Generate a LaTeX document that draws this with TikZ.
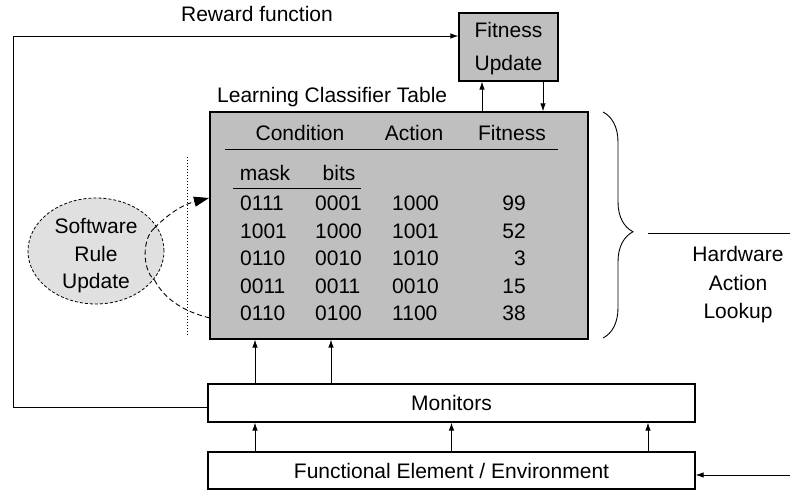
\documentclass[tikz,border=0pt]{standalone}
\usepackage{fontspec}
\setmainfont{Liberation Sans}
\usetikzlibrary{arrows.meta,shapes.geometric,decorations.pathreplacing}
\definecolor{boxgray}{gray}{0.75}
\definecolor{ellgray}{gray}{0.88}
\begin{document}
\begin{tikzpicture}[x=1pt,y=-1pt,
  every node/.style={font=\fontsize{21}{26}\selectfont},
  box/.style={draw, line width=1.2pt, rectangle, inner sep=0},
  graybox/.style={box, fill=boxgray},
  arr/.style={-{Latex[length=8pt,width=5.5pt]}, line width=0.9pt},
  cell/.style={inner sep=0, text height=15pt, text depth=0pt},
  dsh/.style={line width=0.9pt, dash pattern=on 5pt off 3pt},
]
\useasboundingbox (0,0) rectangle (790,490);

% boxes
\node[graybox, minimum width=99pt, minimum height=68pt] (fit) at (508.5,47) {};
\node[align=center, font=\fontsize{21}{33}\selectfont, inner sep=0] (fittxt) at (508.5,49) {Fitness\\Update};
\node[graybox, minimum width=378pt, minimum height=227pt] (lct) at (399,225.5) {};
\node[anchor=west, inner sep=0] (lctlabel) at (217,97) {Learning Classifier Table};
\node[box, minimum width=487pt, minimum height=38pt] (mon) at (451.5,403) {Monitors};
\node[box, minimum width=487pt, minimum height=37pt] (fun) at (451.5,470.5) {Functional Element / Environment};

% table contents
\node[cell] (hcond) at (300,133) {Condition};
\node[cell] (hact) at (414,133) {Action};
\node[cell] (hfit) at (512,133) {Fitness};
\draw[line width=0.9pt] (225,149) -- (558,149);
\node[cell] (hmask) at (265,173) {mask};
\node[cell] (hbits) at (339,173) {bits};
\draw[line width=0.9pt] (233,188) -- (361,188);
\foreach \m/\b/\a/\f [count=\i] in {0111/0001/1000/99, 1001/1000/1001/52, 0110/0010/1010/3, 0011/0011/0010/15, 0110/0100/1100/38}{
  \pgfmathsetmacro{\yy}{203+27.5*(\i-1)}
  \node[cell, anchor=west] (m\i) at (240,\yy) {\m};
  \node[cell, anchor=west] (b\i) at (315,\yy) {\b};
  \node[cell, anchor=west] (a\i) at (392,\yy) {\a};
  \node[cell, anchor=east] (f\i) at (526,\yy) {\f};
}

% reward feedback
\node[inner sep=0] (reward) at (257,14) {Reward function};
\coordinate (fbl) at (13,36);
\draw[arr] ([yshift=-4pt]mon.west) -| (fbl) -- (fbl -| fit.west);

% fitness <-> table
\coordinate (c1) at (482,0);
\coordinate (c2) at (543,0);
\draw[arr] (lct.north -| c1) -- (fit.south -| c1);
\draw[arr] (fit.south -| c2) -- (lct.north -| c2);

% monitors -> table
\coordinate (c3) at (255,0);
\coordinate (c4) at (331,0);
\draw[arr] (mon.north -| c3) -- (lct.south -| c3);
\draw[arr] (mon.north -| c4) -- (lct.south -| c4);

% functional -> monitors
\foreach \x [count=\k] in {255,451.5,648}{
  \coordinate (d\k) at (\x,0);
  \draw[arr] (fun.north -| d\k) -- (mon.south -| d\k);
}

% environment input
\coordinate (inR) at (790,475);
\draw[arr] (inR) -- (inR -| fun.east);

% brace and hardware label
\draw[line width=0.9pt, decorate, decoration={brace, amplitude=30pt, aspect=0.53}] (603,112) -- (603,338);
\coordinate (hwl) at (648,233);
\coordinate (hwr) at (790,233);
\draw[line width=0.9pt] (hwl) -- (hwr);
\node[align=center, font=\fontsize{21}{28.5}\selectfont, inner sep=0] (hw) at (738,285) {Hardware\\Action\\Lookup};

% software rule update
\node[ellipse, draw, fill=ellgray, line width=0.8pt, dash pattern=on 3pt off 2pt,
      minimum width=136pt, minimum height=106pt, inner sep=0] (sw) at (96,251) {};
\node[align=center, font=\fontsize{21}{27.5}\selectfont, inner sep=0] (swtxt) at (96,256) {Software\\Rule\\Update};
\coordinate (arcT) at (154.5,228);
\coordinate (arcB) at (154.5,280);
\coordinate (tipT) at (209,198);
\coordinate (tipB) at (210,318);
\draw[dsh] (arcT) .. controls (142,238) and (142,270) .. (arcB);
\draw[dsh, -{Triangle[length=15pt,width=10pt]}] (arcT) .. controls (170,212) and (185,204) .. (tipT);
\draw[dsh] (arcB) .. controls (165,300) and (185,312) .. (tipB);
\draw[line width=1pt, dotted] (187,157) -- (187,336);
\end{tikzpicture}
\end{document}
